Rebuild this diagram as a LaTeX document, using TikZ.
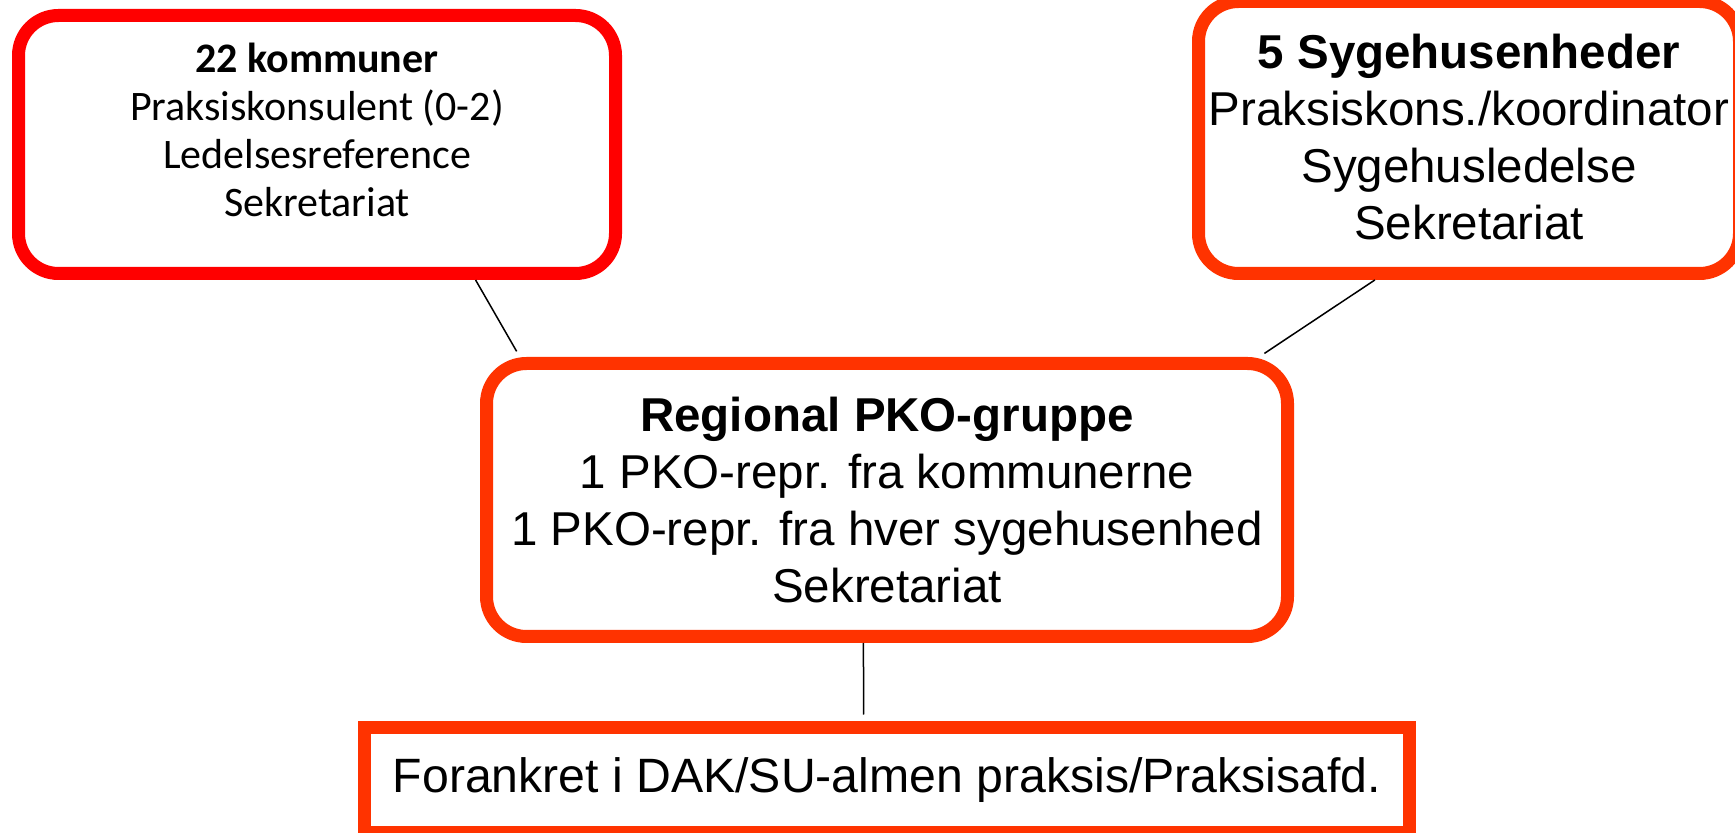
\documentclass[tikz,border=0pt]{standalone}
\usepackage{fontspec}
\setmainfont{Liberation Sans}
\newfontfamily\calibri{Carlito}
\usetikzlibrary{calc}
\definecolor{unitRed}{HTML}{FF0000}
\definecolor{unitOrange}{HTML}{FF3300}
\newcommand\UnitFont{\fontsize{23.75pt}{28.5pt}\selectfont}
\newcommand\KomFont{\calibri\fontsize{21pt}{24pt}\selectfont}

\begin{document}
\begin{tikzpicture}[x=0.5pt,y=-0.5pt,
  unit/.style={draw=unitOrange,line width=6.5pt,rounded corners=20pt,
    inner sep=0pt,align=center,font=\UnitFont},
  link/.style={draw=black,line width=0.75pt,shorten >=3.25pt}]
\useasboundingbox (0,0) rectangle (1735,833);
% upper row
\node[unit,draw=unitRed,minimum width=298.5pt,minimum height=129pt] (kommuner) at (317,144.5) {};
\node[font=\KomFont,align=center,inner sep=0pt] (kommunerText) at ([yshift=7.5pt]kommuner.center)
  {\textbf{22 kommuner}\\Praksiskonsulent (0-2)\\Ledelsesreference\\Sekretariat};
\node[unit,minimum width=270.5pt,minimum height=136pt] (sygehus) at (1469,137.5)
  {\textbf{5 Sygehusenheder}\\Praksiskons./koordinator\\Sygehusledelse\\Sekretariat};
% regional group
\node[unit,minimum width=400.5pt,minimum height=136.5pt] (pko) at (887,500)
  {\textbf{Regional PKO-gruppe}\\1 PKO-repr. fra kommunerne\\1 PKO-repr. fra hver sygehusenhed\\Sekretariat};
\node[unit,sharp corners,minimum width=522.5pt,minimum height=52.5pt,font=\fontsize{24.1pt}{28pt}\selectfont] (forankret) at (887,780)
  {Forankret i DAK/SU-almen praksis/Praksisafd.};
% links
\draw[link] ($(kommuner.south west)!0.76!(kommuner.south east)$) -- ($(pko.north west)!0.049!(pko.north east)$);
\draw[link] ($(sygehus.south west)!0.33!(sygehus.south east)$) -- ($(pko.north west)!0.957!(pko.north east)$);
\draw[link] ($(pko.south west)!0.471!(pko.south east)$) -- ($(forankret.north west)!0.478!(forankret.north east)$);
\end{tikzpicture}
\end{document}
